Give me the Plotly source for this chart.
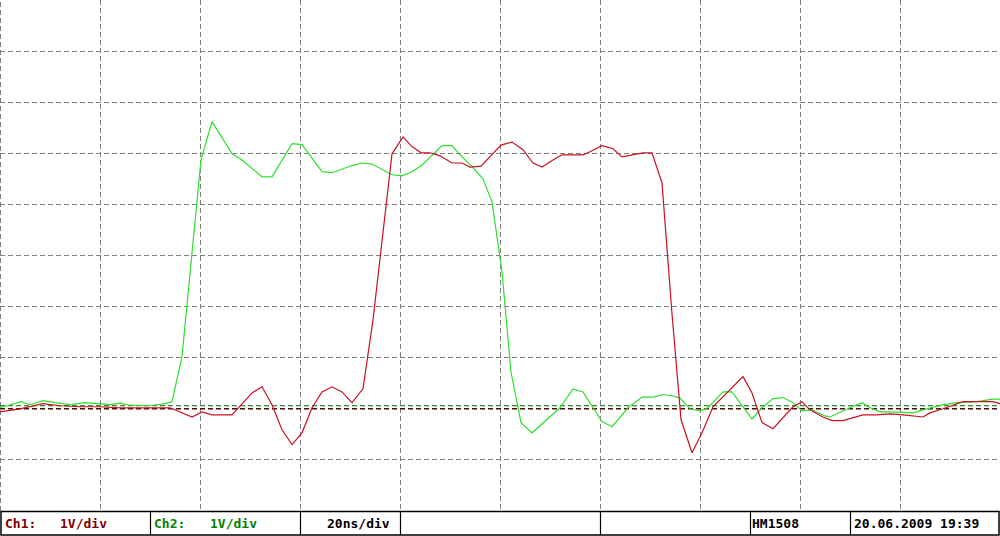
import plotly.graph_objects as go

# ---- data (time in ns, voltage in V; 20 ns/div, 1 V/div) ----
ch2_t = [0.0, 2.0, 4.2, 6.0, 8.6, 11.0, 14.0, 17.0, 20.0, 22.0, 24.0, 26.0, 30.0, 33.0, 34.4,
         36.4, 40.2, 42.4, 46.4, 48.4, 52.4, 54.4, 58.4, 60.4, 64.4, 66.4, 70.4, 72.4, 74.4,
         78.4, 80.4, 82.4, 84.4, 86.4, 88.4, 90.4, 92.4, 94.4, 96.6, 98.4, 100.4, 102.2,
         104.2, 106.4, 109.2, 112.0, 114.6, 116.6, 120.4, 122.4, 125.6, 128.4, 130.6, 132.6,
         134.6, 136.0, 138.0, 140.0, 141.6, 144.6, 146.4, 148.0, 150.4, 152.4, 154.6, 156.6,
         158.6, 160.4, 162.4, 165.0, 166.0, 170.0, 172.4, 174.0, 176.0, 178.0, 182.6, 185.4,
         188.6, 191.4, 195.4, 198.6, 200.0]
ch2_v = [0.02, 0.08, 0.14, 0.08, 0.16, 0.12, 0.08, 0.12, 0.10, 0.08, 0.11, 0.07, 0.06, 0.10,
         0.14, 1.02, 4.87, 5.62, 4.99, 4.87, 4.54, 4.54, 5.19, 5.17, 4.64, 4.62, 4.76, 4.81,
         4.79, 4.58, 4.56, 4.64, 4.77, 4.95, 5.15, 5.15, 4.93, 4.74, 4.50, 4.05, 2.68, 0.72,
         -0.27, -0.47, -0.23, 0.02, 0.39, 0.33, -0.25, -0.35, 0.02, 0.23, 0.23, 0.28, 0.25,
         0.21, -0.00, -0.04, 0.02, 0.33, 0.33, 0.12, -0.20, 0.02, 0.20, 0.22, 0.12, -0.04,
         -0.02, -0.14, -0.16, 0.02, 0.12, 0.02, -0.06, -0.06, -0.08, -0.00, 0.08, 0.12, 0.14,
         0.19, 0.19]

ch1_t = [0.0, 4.0, 8.6, 12.0, 16.0, 20.0, 24.0, 34.0, 38.4, 40.4, 42.4, 46.4, 50.4, 52.4,
         54.4, 56.4, 58.4, 60.4, 62.4, 64.4, 66.4, 68.4, 70.4, 72.6, 74.6, 76.6, 78.4, 80.6,
         82.2, 84.2, 86.0, 88.0, 90.4, 92.4, 94.0, 96.2, 100.2, 102.4, 104.6, 106.6, 108.4,
         110.6, 112.4, 116.6, 118.0, 120.4, 122.6, 124.4, 126.6, 128.6, 130.4, 132.4, 134.4,
         136.2, 138.4, 140.4, 142.6, 145.4, 148.6, 150.4, 152.4, 154.6, 158.6, 160.4, 162.0,
         164.6, 166.4, 168.6, 172.6, 175.4, 178.0, 180.6, 184.6, 186.0, 188.6, 192.6, 197.4,
         198.6, 200.0]
ch1_v = [-0.06, 0.00, 0.10, 0.06, 0.04, 0.04, 0.02, 0.02, -0.16, -0.06, -0.12, -0.12, 0.31,
         0.43, 0.08, -0.41, -0.70, -0.47, 0.02, 0.33, 0.43, 0.33, 0.12, 0.39, 1.74, 3.50,
         4.99, 5.32, 5.15, 5.01, 5.01, 4.95, 4.81, 4.81, 4.73, 4.75, 5.16, 5.22, 5.07, 4.81,
         4.73, 4.87, 4.97, 4.97, 5.03, 5.15, 5.09, 4.93, 4.97, 5.01, 5.01, 4.42, 1.86, -0.21,
         -0.86, -0.47, 0.04, 0.31, 0.63, 0.31, -0.27, -0.39, 0.04, 0.14, -0.02, -0.16, -0.23,
         -0.23, -0.12, -0.12, -0.10, -0.12, -0.16, -0.08, -0.00, 0.14, 0.14, 0.14, 0.10]

ch1_ref = 0.0
ch2_ref = 0.06

x_range = [0, 200]
y_range = [-2, 8]

bar_labels = [
    ("Ch1:", 3, "#800000"), ("1V/div", 58, "#800000"),
    ("Ch2:", 152, "#008000"), ("1V/div", 208, "#008000"),
    ("20ns/div", 325, "#000000"),
    ("HM1508", 750, "#000000"), ("20.06.2009 19:39", 852, "#000000"),
]
bar_separators = [150, 300, 400, 600, 750, 850]

W, H = 1000, 536
PLOT_H = 511
BAR_TOP = 511.5
BAR_BOT = 535.0


def py(p):  # pixel y (from figure top) -> paper y of the plot area
    return (PLOT_H - p) / PLOT_H


def px(p):
    return p / W


fig = go.Figure()

# channel reference markers
fig.add_trace(go.Scatter(x=x_range, y=[ch2_ref, ch2_ref], mode="lines",
                         line=dict(color="#006400", width=1.2, dash="5px,3px"),
                         hoverinfo="skip", showlegend=False))
fig.add_trace(go.Scatter(x=x_range, y=[ch1_ref, ch1_ref], mode="lines",
                         line=dict(color="#4a0808", width=1.6, dash="5px,3px"),
                         hoverinfo="skip", showlegend=False))

fig.add_trace(go.Scatter(x=ch2_t, y=ch2_v, mode="lines",
                         line=dict(color="#2ee02e", width=1.2), showlegend=False))
fig.add_trace(go.Scatter(x=ch1_t, y=ch1_v, mode="lines",
                         line=dict(color="#cc1020", width=1.2), showlegend=False))

shapes = []
# left-edge grid line (plotly omits the grid line on the range edge)
shapes.append(dict(type="line", xref="paper", yref="paper", x0=px(0.5), x1=px(0.5),
                   y0=0, y1=1, line=dict(color="#808080", width=1, dash="5px,3px"),
                   layer="below"))
# bottom bar
shapes.append(dict(type="rect", xref="paper", yref="paper",
                   x0=px(1), x1=px(999), y0=py(BAR_BOT), y1=py(BAR_TOP),
                   line=dict(color="black", width=1.5), fillcolor="white"))
for s in bar_separators:
    shapes.append(dict(type="line", xref="paper", yref="paper",
                       x0=px(s + 0.5), x1=px(s + 0.5), y0=py(BAR_BOT), y1=py(BAR_TOP),
                       line=dict(color="black", width=1.2)))

annotations = []
for text, xl, col in bar_labels:
    annotations.append(dict(text="<b>" + text + "</b>", x=px(xl), y=py(523.5),
                            xref="paper", yref="paper", xanchor="left", yanchor="middle",
                            showarrow=False,
                            font=dict(family="DejaVu Sans Mono", size=13, color=col)))

fig.update_layout(
    width=W, height=H,
    margin=dict(l=0, r=0, t=0, b=H - PLOT_H, pad=0),
    paper_bgcolor="white", plot_bgcolor="white",
    shapes=shapes, annotations=annotations,
    xaxis=dict(range=x_range, dtick=20, tick0=0, showgrid=True, gridcolor="#808080",
               griddash="5px,3px", gridwidth=1, zeroline=False, showticklabels=False,
               ticks="", showline=False, fixedrange=True),
    yaxis=dict(range=y_range, dtick=1, tick0=0, showgrid=True, gridcolor="#808080",
               griddash="5px,3px", gridwidth=1, zeroline=False, showticklabels=False,
               ticks="", showline=False, fixedrange=True),
)

fig.write_html("out.html", config={"displayModeBar": False},
               post_script="document.body.style.margin='0';")
